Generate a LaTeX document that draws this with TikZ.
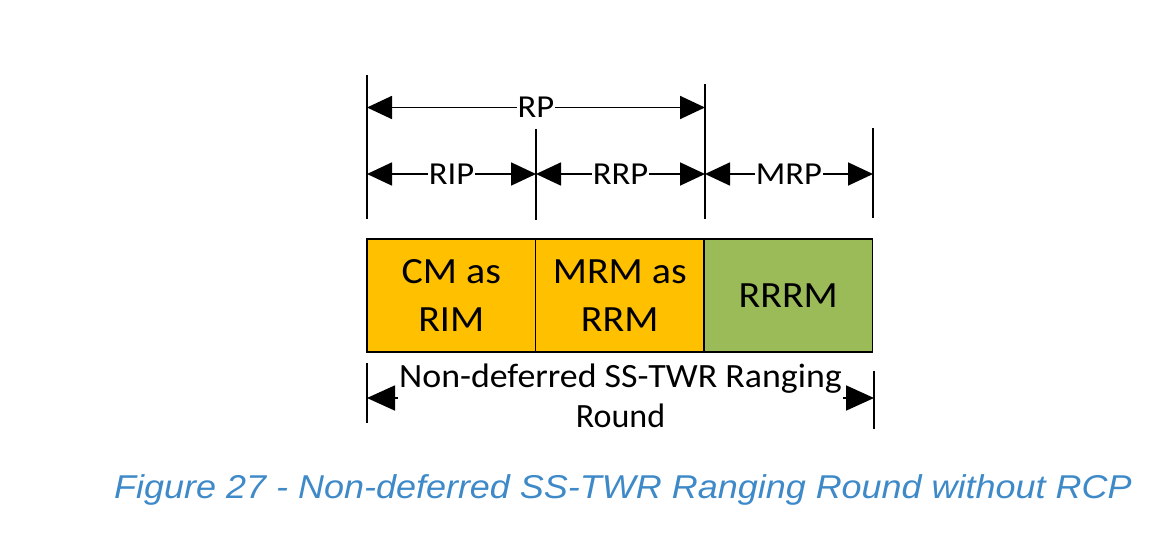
\documentclass[tikz,border=0pt]{standalone}
\usepackage{fontspec}
\usepackage{graphicx}
\setmainfont{Carlito}
\newfontfamily\capfont{Liberation Sans}
\usetikzlibrary{arrows.meta,positioning,calc}
\definecolor{slotgold}{RGB}{255,192,0}
\definecolor{slotgreen}{RGB}{155,187,89}
\definecolor{capblue}{RGB}{62,137,200}
\newcommand{\wide}[1]{\scalebox{1.08}[1]{#1}}

\begin{document}
\begin{tikzpicture}[x=1pt,y=-1pt,
	tick/.style={line width=1.8pt},
	span/.style={line width=1.8pt,{Triangle[length=25pt,width=23pt]}-{Triangle[length=25pt,width=23pt]}},
	lbl/.style={fill=white,inner sep=1pt,font=\fontsize{32}{38}\selectfont},
	slot/.style={draw,line width=1.8pt,outer sep=0pt,minimum width=168.5pt,minimum height=113pt,align=center,font=\fontsize{37}{48}\selectfont}]
	\useasboundingbox (0,0) rectangle (1158,543);
	
	\def\xa{367} % start of round
	\def\xb{536} % end of RIP
	\def\xc{705} % end of RRP
	\def\xd{873} % end of MRP
	
	% tick lines on top
	\coordinate (T0) at (\xa,75);  \coordinate (B0) at (\xa,219);
	\coordinate (T1) at (\xb,129); \coordinate (B1) at (\xb,220);
	\coordinate (T2) at (\xc,84);  \coordinate (B2) at (\xc,219);
	\coordinate (T3) at (\xd,128); \coordinate (B3) at (\xd,218);
	\foreach \i in {0,...,3}
	\draw[tick] (T\i) -- (B\i);
	
	% RP
	\coordinate (P0) at (\xa,107.5);
	\coordinate (P2) at (\xc,107.5);
	\draw[span] (P0) -- (P2);
	\node[lbl] (rp) at ($(P0)!0.5!(P2)$) {\wide{RP}};
	
	% RIP, RRP, MRP
	\coordinate (Q0) at (\xa,174);
	\coordinate (Q1) at (\xb,174);
	\coordinate (Q2) at (\xc,174);
	\coordinate (Q3) at (\xd,174);
	\draw[span] (Q0) -- (Q1);
	\draw[span] (Q1) -- (Q2);
	\draw[span] (Q2) -- (Q3);
	\node[lbl] (rip) at ($(Q0)!0.5!(Q1)$) {\wide{RIP}};
	\node[lbl] (rrp) at ($(Q1)!0.5!(Q2)$) {\wide{RRP}};
	\node[lbl] (mrp) at ($(Q2)!0.5!(Q3)$) {\wide{MRP}};
	
	% the three slots
	\node[slot,fill=slotgold] (cm) at (451.25,295.5) {\wide{CM as}\\\wide{RIM}};
	\node[slot,fill=slotgold,right=0pt of cm] (mrm) {\wide{MRM as}\\\wide{RRM}};
	\node[slot,fill=slotgreen,right=0pt of mrm] (rrrm) {\wide{RRRM}};
	
	% ranging round below
	\coordinate (U0) at (\xa,363); \coordinate (V0) at (\xa,423);
	\coordinate (U3) at (874,371); \coordinate (V3) at (874,429);
	\draw[tick] (U0) -- (V0);
	\draw[tick] (U3) -- (V3);
	\coordinate (R0) at (\xa,398);
	\coordinate (R3) at (874,398);
	\draw[line width=1.8pt,{Triangle[length=28pt,width=25pt]}-{Triangle[length=28pt,width=25pt]}] (R0) -- (R3);
	\node[fill=white,inner sep=1pt,align=center,font=\fontsize{34}{40}\selectfont] (round) at (620.5,396) {\scalebox{1.055}[1]{Non-deferred SS-TWR Ranging}\\Round};
	
	% caption
	\node[anchor=base west,inner sep=0pt,text=capblue,font=\capfont\itshape\fontsize{33}{38}\selectfont] (cap) at (114,498) {\scalebox{1.09}[1]{Figure 27 - Non-deferred SS-TWR Ranging Round without RCP}};
\end{tikzpicture}
\end{document}
